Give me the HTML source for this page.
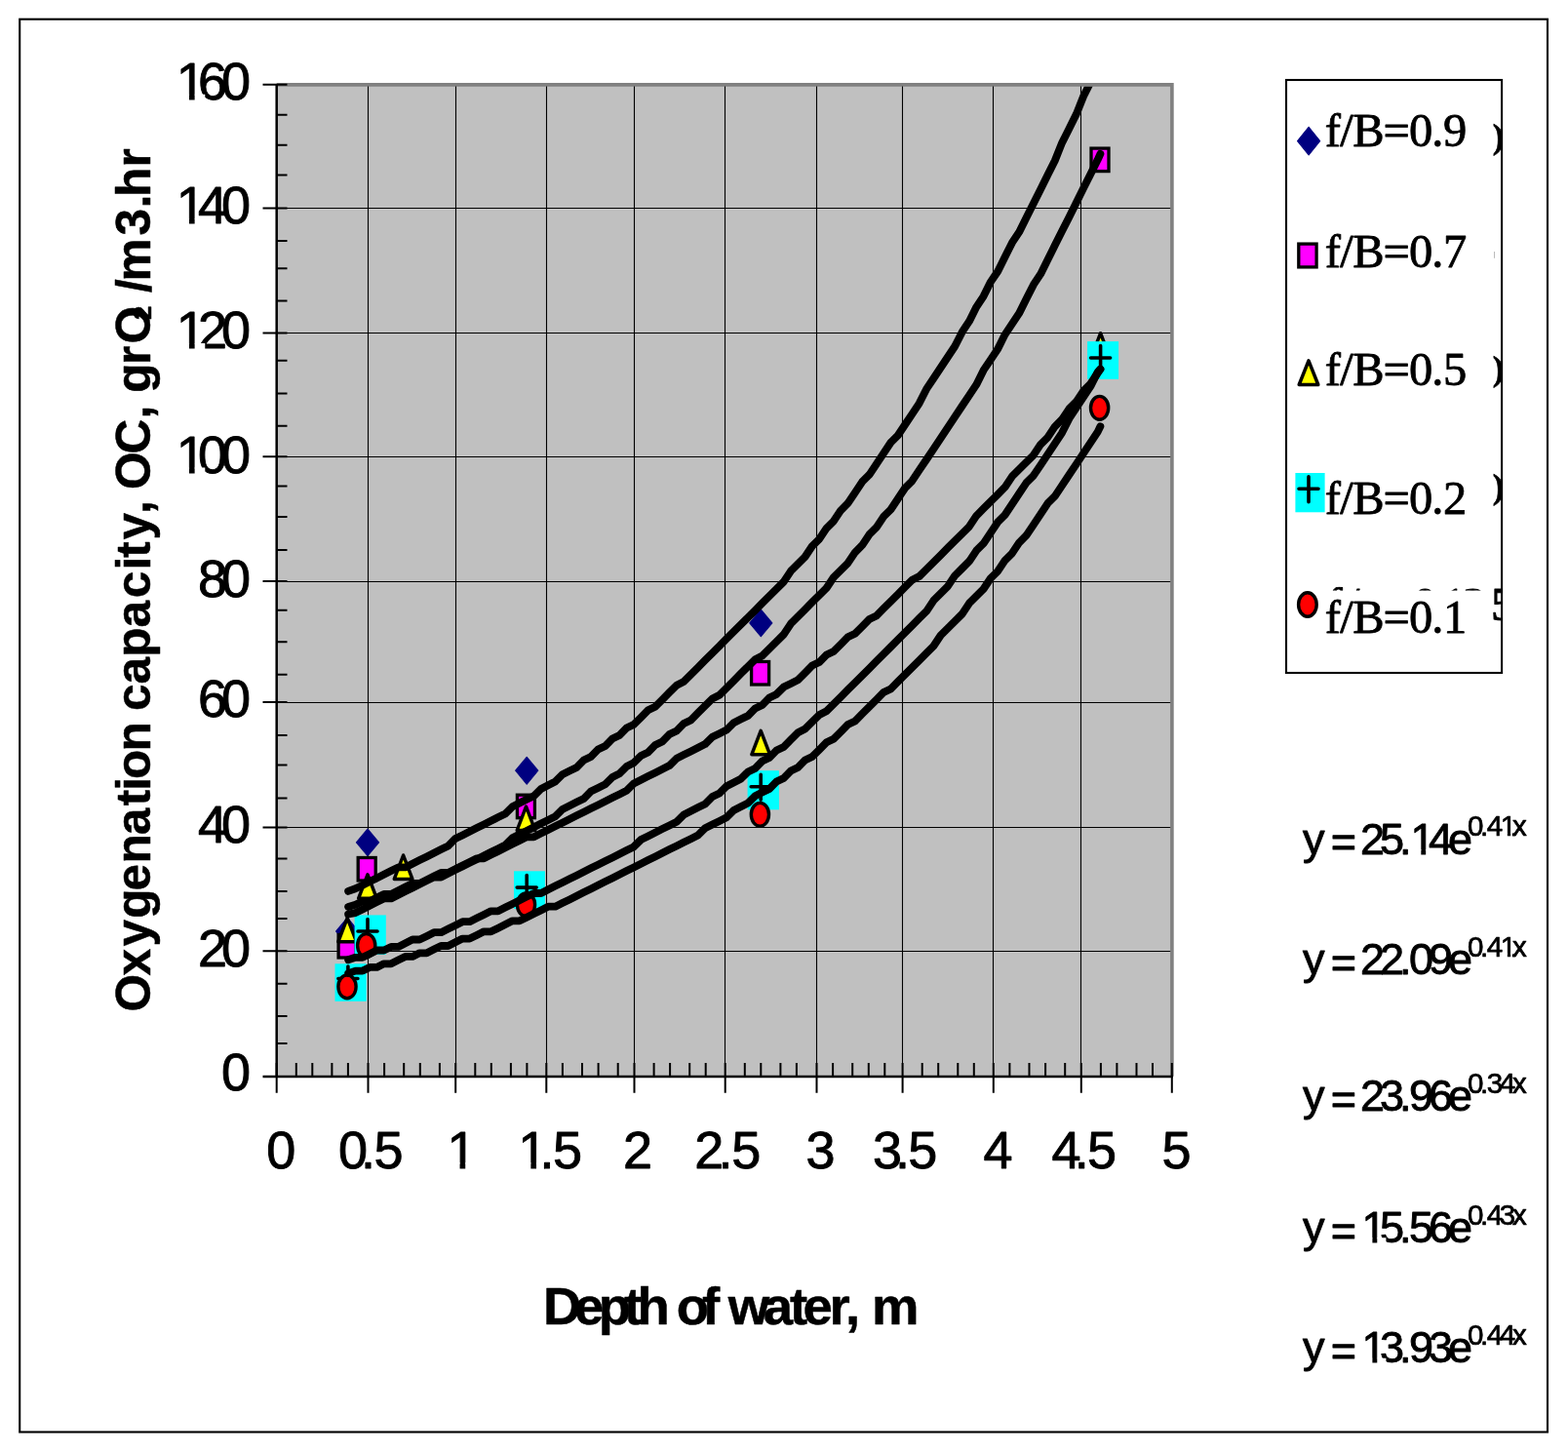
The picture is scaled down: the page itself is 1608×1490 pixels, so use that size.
<!DOCTYPE html>
<html lang="en"><head><meta charset="utf-8"><title>Oxygenation capacity vs depth of water</title>
<style>
html,body{margin:0;padding:0;background:#fff;}
body{width:1608px;height:1490px;overflow:hidden;}
svg{display:block;}
text{white-space:pre;}
.sans{font-family:"Liberation Sans",Arial,Helvetica,sans-serif;}
.serif{font-family:"Liberation Serif","Times New Roman",Times,serif;}
</style></head><body>
<svg width="1608" height="1490" viewBox="0 0 1608 1490">
<rect x="0" y="0" width="1608" height="1490" fill="#fff"/>
<rect x="20.2" y="19.7" width="1566.8" height="1448.8" fill="none" stroke="#000" stroke-width="2.1"/>
<rect x="283.7" y="86.7" width="918.8" height="1017.2" fill="#c0c0c0"/>
<path d="M283.7 86.9 H1201.9 V1103.8" fill="none" stroke="#808080" stroke-width="3.6"/>
<path d="M283.7 975.5 H1200.2 M283.7 848.5 H1200.2 M283.7 720.5 H1200.2 M283.7 596.5 H1200.2 M283.7 468.5 H1200.2 M283.7 341.5 H1200.2 M283.7 213.5 H1200.2 M377.5 88.6 V1103.8 M467.5 88.6 V1103.8 M560.5 88.6 V1103.8 M650.5 88.6 V1103.8 M743.5 88.6 V1103.8 M837.5 88.6 V1103.8 M925.5 88.6 V1103.8 M1018.5 88.6 V1103.8 M1108.5 88.6 V1103.8" fill="none" stroke="#000" stroke-width="1.1"/>
<path d="M283.7 86 V1104.5" fill="none" stroke="#000" stroke-width="2.5"/>
<path d="M269.5 1103.9 H1203" fill="none" stroke="#000" stroke-width="2.5"/>
<path d="M269.5 975.3 H294.5 M269.5 848.6 H294.5 M269.5 720.1 H294.5 M269.5 596.1 H294.5 M269.5 468.3 H294.5 M269.5 341.6 H294.5 M269.5 213.4 H294.5 M269.5 86.75 H294.5 M284 117.8 H294.5 M284 148.7 H294.5 M284 179.6 H294.5 M284 247 H294.5 M284 275.2 H294.5 M284 308.5 H294.5 M284 369.7 H294.5 M284 403.5 H294.5 M284 436.7 H294.5 M284 498.5 H294.5 M284 530.1 H294.5 M284 563.9 H294.5 M284 625.7 H294.5 M284 658.3 H294.5 M284 691.8 H294.5 M284 754 H294.5 M284 784.6 H294.5 M284 818.5 H294.5 M284 880.4 H294.5 M284 913.9 H294.5 M284 942 H294.5 M284 1008.7 H294.5 M284 1041.9 H294.5 M284 1070 H294.5 M283.7 1090 V1120.8 M377.5 1090 V1120.8 M467.2 1090 V1120.8 M560.3 1090 V1120.8 M650.5 1090 V1120.8 M743.7 1090 V1120.8 M837.5 1090 V1120.8 M925.6 1090 V1120.8 M1018.8 1090 V1120.8 M1108.8 1090 V1120.8 M1201.8 1090 V1120.8 M303.8 1090 V1103.8 M320.3 1090 V1103.8 M340.4 1090 V1103.8 M356.9 1090 V1103.8 M394.1 1090 V1103.8 M414.2 1090 V1103.8 M430.8 1090 V1103.8 M450.9 1090 V1103.8 M487.3 1090 V1103.8 M503.8 1090 V1103.8 M523.9 1090 V1103.8 M540.4 1090 V1103.8 M576.9 1090 V1103.8 M597.0 1090 V1103.8 M613.6 1090 V1103.8 M633.7 1090 V1103.8 M670.6 1090 V1103.8 M687.1 1090 V1103.8 M707.2 1090 V1103.8 M723.7 1090 V1103.8 M763.8 1090 V1103.8 M780.3 1090 V1103.8 M800.4 1090 V1103.8 M816.9 1090 V1103.8 M854.1 1090 V1103.8 M874.2 1090 V1103.8 M890.8 1090 V1103.8 M907.3 1090 V1103.8 M945.7 1090 V1103.8 M962.2 1090 V1103.8 M982.3 1090 V1103.8 M998.8 1090 V1103.8 M1035.4 1090 V1103.8 M1055.5 1090 V1103.8 M1072.1 1090 V1103.8 M1092.2 1090 V1103.8 M1128.9 1090 V1103.8 M1145.4 1090 V1103.8 M1165.5 1090 V1103.8 M1182.0 1090 V1103.8" fill="none" stroke="#000" stroke-width="2"/>
<g id="markers">
<path d="M356.2 941.2 L367.7 955 L356.2 968.8 L344.7 955 Z" fill="#000080" stroke="#000080" stroke-width="1.2" stroke-linejoin="round"/>
<path d="M377 850.1 L388.5 863.9 L377 877.6 L365.5 863.9 Z" fill="#000080" stroke="#000080" stroke-width="1.2" stroke-linejoin="round"/>
<path d="M540.2 776.5 L551.7 790.2 L540.2 804 L528.7 790.2 Z" fill="#000080" stroke="#000080" stroke-width="1.2" stroke-linejoin="round"/>
<path d="M780.3 625.1 L791.8 638.9 L780.3 652.6 L768.8 638.9 Z" fill="#000080" stroke="#000080" stroke-width="1.2" stroke-linejoin="round"/>
<rect x="347.1" y="958.5" width="18" height="23.5" fill="#ff00ff" stroke="#000" stroke-width="3.3"/>
<rect x="367.2" y="879.5" width="18" height="23.5" fill="#ff00ff" stroke="#000" stroke-width="3.3"/>
<rect x="530.4" y="815.2" width="18" height="23.5" fill="#ff00ff" stroke="#000" stroke-width="3.3"/>
<rect x="770.6" y="678.5" width="18" height="23.5" fill="#ff00ff" stroke="#000" stroke-width="3.3"/>
<rect x="1119" y="152.1" width="18" height="23.5" fill="#ff00ff" stroke="#000" stroke-width="3.3"/>
<path d="M356.2 941.3 L365.5 965.7 L346.9 965.7 Z" fill="#ffff00" stroke="#000" stroke-width="3.5" stroke-linejoin="round"/>
<path d="M377 896.8 L386.3 921.2 L367.7 921.2 Z" fill="#ffff00" stroke="#000" stroke-width="3.5" stroke-linejoin="round"/>
<path d="M413.6 877 L422.9 901.4 L404.3 901.4 Z" fill="#ffff00" stroke="#000" stroke-width="3.5" stroke-linejoin="round"/>
<path d="M539.5 827.1 L548.8 851.5 L530.2 851.5 Z" fill="#ffff00" stroke="#000" stroke-width="3.5" stroke-linejoin="round"/>
<path d="M780.2 749.3 L789.5 773.7 L770.9 773.7 Z" fill="#ffff00" stroke="#000" stroke-width="3.5" stroke-linejoin="round"/>
<path d="M1128.6 341.7 L1137.9 366.1 L1119.3 366.1 Z" fill="#ffff00" stroke="#000" stroke-width="3.5" stroke-linejoin="round"/>
<rect x="343.5" y="988.3" width="32.2" height="38.5" fill="#00ffff"/><path d="M346.9 1003.5 H366.9 M356.9 991 V1017" fill="none" stroke="#000" stroke-width="3.6" stroke-linecap="round"/>
<rect x="363.6" y="938.4" width="32.2" height="40.5" fill="#00ffff"/><path d="M367 955 H387 M377 942.5 V968.5" fill="none" stroke="#000" stroke-width="3.6" stroke-linecap="round"/>
<rect x="527" y="893.3" width="31.9" height="38.7" fill="#00ffff"/><path d="M530.2 910.1 H550.2 M540.2 897.6 V923.6" fill="none" stroke="#000" stroke-width="3.6" stroke-linecap="round"/>
<rect x="766.6" y="790.2" width="32.3" height="40.1" fill="#00ffff"/><path d="M770.2 806.8 H790.2 M780.2 794.3 V820.3" fill="none" stroke="#000" stroke-width="3.6" stroke-linecap="round"/>
<rect x="1115.1" y="350.1" width="32" height="38.7" fill="#00ffff"/><path d="M1118.6 367 H1138.6 M1128.6 354.5 V380.5" fill="none" stroke="#000" stroke-width="3.6" stroke-linecap="round"/>
<ellipse cx="356" cy="1011.8" rx="9.1" ry="11.9" fill="#ff0000" stroke="#000" stroke-width="3.4"/>
<ellipse cx="375.7" cy="969.5" rx="9.1" ry="11.9" fill="#ff0000" stroke="#000" stroke-width="3.4"/>
<ellipse cx="539.5" cy="927.8" rx="9.1" ry="11.9" fill="#ff0000" stroke="#000" stroke-width="3.4"/>
<ellipse cx="779.4" cy="835.3" rx="9.1" ry="11.9" fill="#ff0000" stroke="#000" stroke-width="3.4"/>
<ellipse cx="1127.6" cy="418.3" rx="9.1" ry="11.9" fill="#ff0000" stroke="#000" stroke-width="3.4"/>
</g>
<clipPath id="pc"><rect x="283.7" y="88.7" width="918.8" height="1016"/></clipPath>
<g id="trend" clip-path="url(#pc)" fill="none" stroke="#000" stroke-width="7.8" stroke-linecap="round" stroke-linejoin="round">
<polyline points="357.1,913.9 364.5,911.3 371.8,907.7 379.1,904.0 386.4,900.4 393.7,896.7 401.1,893.0 408.4,889.4 415.7,889.4 423.0,885.7 430.3,882.1 437.7,878.4 445.0,874.7 452.3,871.1 459.6,867.4 466.9,860.1 474.3,856.4 481.6,852.8 488.9,849.1 496.2,845.5 503.5,841.8 510.9,838.1 518.2,834.5 525.5,827.2 532.8,823.5 540.1,819.8 547.5,816.2 554.8,808.9 562.1,805.2 569.4,801.5 576.7,794.2 584.1,790.6 591.4,786.9 598.7,779.6 606.0,775.9 613.3,768.6 620.7,764.9 628.0,757.6 635.3,754.0 642.6,746.6 649.9,743.0 657.3,735.7 664.6,728.3 671.9,724.7 679.2,717.4 686.5,710.0 693.9,702.7 701.2,699.1 708.5,691.7 715.8,684.4 723.1,677.1 730.5,669.8 737.8,662.5 745.1,655.1 752.4,647.8 759.7,640.5 767.1,633.2 774.4,625.9 781.7,618.5 789.0,611.2 796.3,603.9 803.7,596.6 811.0,585.6 818.3,578.3 825.6,571.0 832.9,560.0 840.3,552.7 847.6,541.7 854.9,534.4 862.2,523.4 869.5,516.1 876.9,505.1 884.2,494.1 891.5,486.8 898.8,475.8 906.1,464.8 913.5,453.8 920.8,446.5 928.1,435.5 935.4,424.6 942.7,413.6 950.1,398.9 957.4,388.0 964.7,377.0 972.0,366.0 979.3,355.0 986.7,340.4 994.0,329.4 1001.3,314.8 1008.6,303.8 1015.9,289.1 1023.3,278.2 1030.6,263.5 1037.9,248.9 1045.2,237.9 1052.5,223.3 1059.9,208.6 1067.2,194.0 1074.5,179.3 1081.8,164.7 1089.1,146.4 1096.5,131.8 1103.8,117.1 1111.1,98.8 1118.4,84.2 1125.7,65.9 1128.4,61.6"/>
<polyline points="357.1,937.5 364.5,936.1 371.8,932.4 379.1,928.7 386.4,925.1 393.7,921.4 401.1,921.4 408.4,917.8 415.7,914.1 423.0,910.4 430.3,906.8 437.7,903.1 445.0,899.5 452.3,899.5 459.6,895.8 466.9,892.1 474.3,888.5 481.6,884.8 488.9,881.2 496.2,877.5 503.5,873.8 510.9,870.2 518.2,866.5 525.5,859.2 532.8,855.5 540.1,851.9 547.5,848.2 554.8,844.6 562.1,840.9 569.4,837.2 576.7,829.9 584.1,826.3 591.4,822.6 598.7,818.9 606.0,811.6 613.3,808.0 620.7,804.3 628.0,797.0 635.3,793.3 642.6,786.0 649.9,782.3 657.3,775.0 664.6,771.4 671.9,764.0 679.2,760.4 686.5,753.1 693.9,749.4 701.2,742.1 708.5,738.4 715.8,731.1 723.1,723.8 730.5,716.5 737.8,712.8 745.1,705.5 752.4,698.2 759.7,690.8 767.1,683.5 774.4,676.2 781.7,672.5 789.0,665.2 796.3,657.9 803.7,650.6 811.0,639.6 818.3,632.3 825.6,625.0 832.9,617.6 840.3,610.3 847.6,603.0 854.9,592.0 862.2,584.7 869.5,577.4 876.9,566.4 884.2,559.1 891.5,548.1 898.8,540.8 906.1,529.8 913.5,522.5 920.8,511.5 928.1,500.5 935.4,493.2 942.7,482.2 950.1,471.2 957.4,460.3 964.7,449.3 972.0,438.3 979.3,427.3 986.7,416.3 994.0,405.4 1001.3,394.4 1008.6,379.7 1015.9,368.8 1023.3,357.8 1030.6,343.1 1037.9,332.2 1045.2,321.2 1052.5,306.5 1059.9,291.9 1067.2,280.9 1074.5,266.3 1081.8,251.6 1089.1,237.0 1096.5,222.4 1103.8,207.7 1111.1,193.1 1118.4,178.4 1125.7,163.8 1128.4,157.8"/>
<polyline points="357.1,930.0 364.5,927.8 371.8,924.2 379.1,924.2 386.4,920.5 393.7,916.9 401.1,916.9 408.4,913.2 415.7,909.5 423.0,905.9 430.3,905.9 437.7,902.2 445.0,898.6 452.3,894.9 459.6,894.9 466.9,891.2 474.3,887.6 481.6,883.9 488.9,880.3 496.2,880.3 503.5,876.6 510.9,872.9 518.2,869.3 525.5,865.6 532.8,862.0 540.1,858.3 547.5,858.3 554.8,854.6 562.1,851.0 569.4,847.3 576.7,843.7 584.1,840.0 591.4,836.3 598.7,832.7 606.0,829.0 613.3,825.4 620.7,821.7 628.0,818.0 635.3,814.4 642.6,810.7 649.9,803.4 657.3,799.7 664.6,796.1 671.9,792.4 679.2,788.8 686.5,785.1 693.9,777.8 701.2,774.1 708.5,770.5 715.8,766.8 723.1,763.1 730.5,755.8 737.8,752.2 745.1,748.5 752.4,741.2 759.7,737.5 767.1,733.9 774.4,726.5 781.7,722.9 789.0,715.6 796.3,711.9 803.7,704.6 811.0,700.9 818.3,697.3 825.6,689.9 832.9,682.6 840.3,679.0 847.6,671.6 854.9,668.0 862.2,660.7 869.5,653.3 876.9,649.7 884.2,642.4 891.5,635.0 898.8,631.4 906.1,624.1 913.5,616.7 920.8,609.4 928.1,602.1 935.4,594.8 942.7,591.1 950.1,583.8 957.4,576.5 964.7,569.2 972.0,561.8 979.3,554.5 986.7,547.2 994.0,539.9 1001.3,528.9 1008.6,521.6 1015.9,514.3 1023.3,506.9 1030.6,499.6 1037.9,488.6 1045.2,481.3 1052.5,474.0 1059.9,466.7 1067.2,455.7 1074.5,448.4 1081.8,437.4 1089.1,430.1 1096.5,419.1 1103.8,411.8 1111.1,400.8 1118.4,393.5 1125.7,382.5 1128.4,378.5"/>
<polyline points="357.1,984.3 364.5,981.8 371.8,981.8 379.1,978.2 386.4,974.5 393.7,974.5 401.1,970.9 408.4,970.9 415.7,967.2 423.0,963.5 430.3,963.5 437.7,959.9 445.0,956.2 452.3,956.2 459.6,952.6 466.9,948.9 474.3,945.2 481.6,945.2 488.9,941.6 496.2,937.9 503.5,934.3 510.9,934.3 518.2,930.6 525.5,926.9 532.8,923.3 540.1,919.6 547.5,916.0 554.8,916.0 562.1,912.3 569.4,908.6 576.7,905.0 584.1,901.3 591.4,897.7 598.7,894.0 606.0,890.3 613.3,886.7 620.7,883.0 628.0,879.4 635.3,875.7 642.6,872.0 649.9,868.4 657.3,861.1 664.6,857.4 671.9,853.7 679.2,850.1 686.5,846.4 693.9,842.8 701.2,835.4 708.5,831.8 715.8,828.1 723.1,824.5 730.5,817.1 737.8,813.5 745.1,806.2 752.4,802.5 759.7,798.8 767.1,791.5 774.4,787.9 781.7,780.5 789.0,776.9 796.3,769.6 803.7,765.9 811.0,758.6 818.3,751.3 825.6,747.6 832.9,740.3 840.3,733.0 847.6,729.3 854.9,722.0 862.2,714.7 869.5,707.3 876.9,700.0 884.2,692.7 891.5,685.4 898.8,678.1 906.1,670.7 913.5,663.4 920.8,656.1 928.1,648.8 935.4,641.5 942.7,634.1 950.1,626.8 957.4,615.8 964.7,608.5 972.0,601.2 979.3,590.2 986.7,582.9 994.0,575.6 1001.3,564.6 1008.6,557.3 1015.9,546.3 1023.3,535.3 1030.6,528.0 1037.9,517.0 1045.2,506.0 1052.5,495.1 1059.9,487.7 1067.2,476.8 1074.5,465.8 1081.8,454.8 1089.1,443.8 1096.5,429.2 1103.8,418.2 1111.1,407.2 1118.4,396.2 1125.7,381.6 1128.4,378.6"/>
<polyline points="357.1,998.1 364.5,995.6 371.8,995.6 379.1,991.9 386.4,991.9 393.7,988.3 401.1,988.3 408.4,984.6 415.7,980.9 423.0,980.9 430.3,977.3 437.7,977.3 445.0,973.6 452.3,970.0 459.6,970.0 466.9,966.3 474.3,962.6 481.6,962.6 488.9,959.0 496.2,955.3 503.5,955.3 510.9,951.7 518.2,948.0 525.5,944.3 532.8,944.3 540.1,940.7 547.5,937.0 554.8,933.4 562.1,929.7 569.4,929.7 576.7,926.0 584.1,922.4 591.4,918.7 598.7,915.1 606.0,911.4 613.3,907.7 620.7,904.1 628.0,900.4 635.3,896.8 642.6,893.1 649.9,889.4 657.3,885.8 664.6,882.1 671.9,878.5 679.2,874.8 686.5,871.1 693.9,867.5 701.2,863.8 708.5,860.2 715.8,856.5 723.1,849.2 730.5,845.5 737.8,841.9 745.1,838.2 752.4,830.9 759.7,827.2 767.1,823.6 774.4,816.2 781.7,812.6 789.0,808.9 796.3,801.6 803.7,797.9 811.0,790.6 818.3,787.0 825.6,779.6 832.9,776.0 840.3,768.7 847.6,761.3 854.9,757.7 862.2,750.4 869.5,743.0 876.9,739.4 884.2,732.1 891.5,724.7 898.8,717.4 906.1,710.1 913.5,706.4 920.8,699.1 928.1,691.8 935.4,684.5 942.7,677.2 950.1,669.8 957.4,662.5 964.7,651.5 972.0,644.2 979.3,636.9 986.7,629.6 994.0,618.6 1001.3,611.3 1008.6,604.0 1015.9,593.0 1023.3,585.7 1030.6,574.7 1037.9,567.4 1045.2,556.4 1052.5,549.1 1059.9,538.1 1067.2,527.1 1074.5,516.1 1081.8,508.8 1089.1,497.8 1096.5,486.8 1103.8,475.9 1111.1,464.9 1118.4,453.9 1125.7,442.9 1128.4,437.3"/>
</g>
<g id="ylabels" fill="#000">
<text class="sans" font-size="54" stroke="#000" stroke-width="0.9" stroke-linejoin="round" x="226.9" y="1118">0</text>
<text class="sans" font-size="54" stroke="#000" stroke-width="0.9" stroke-linejoin="round" x="203 226.9" y="990.6">20</text>
<text class="sans" font-size="54" stroke="#000" stroke-width="0.9" stroke-linejoin="round" x="203 226.9" y="864.4">40</text>
<text class="sans" font-size="54" stroke="#000" stroke-width="0.9" stroke-linejoin="round" x="203 226.9" y="734.7">60</text>
<text class="sans" font-size="54" stroke="#000" stroke-width="0.9" stroke-linejoin="round" x="203 226.9" y="611.9">80</text>
<text class="sans" font-size="54" stroke="#000" stroke-width="0.9" stroke-linejoin="round" x="180.8 203 226.9" y="484.8">100</text><path d="M182.89 479.52 H193.96 V486.85 H182.89 Z M199.63 479.52 H210.27 V486.85 H199.63 Z" fill="#fff"/>
<text class="sans" font-size="54" stroke="#000" stroke-width="0.9" stroke-linejoin="round" x="180.8 203 226.9" y="357.4">120</text><path d="M182.89 352.12 H193.96 V359.45 H182.89 Z M199.63 352.12 H210.27 V359.45 H199.63 Z" fill="#fff"/>
<text class="sans" font-size="54" stroke="#000" stroke-width="0.9" stroke-linejoin="round" x="180.8 203 226.9" y="229.2">140</text><path d="M182.89 223.92 H193.96 V231.25 H182.89 Z M199.63 223.92 H210.27 V231.25 H199.63 Z" fill="#fff"/>
<text class="sans" font-size="54" stroke="#000" stroke-width="0.9" stroke-linejoin="round" x="180.8 203 226.9" y="102">160</text><path d="M182.89 96.72 H193.96 V104.05 H182.89 Z M199.63 96.72 H210.27 V104.05 H199.63 Z" fill="#fff"/>
</g>
<g id="xlabels" fill="#000">
<text class="sans" font-size="54" stroke="#000" stroke-width="0.9" stroke-linejoin="round" x="273.3" y="1197.6">0</text>
<text class="sans" font-size="54" stroke="#000" stroke-width="0.9" stroke-linejoin="round" x="347 370 383.4" y="1197.6">0.5</text>
<text class="sans" font-size="54" stroke="#000" stroke-width="0.9" stroke-linejoin="round" x="458.4" y="1197.6">1</text><path d="M460.49 1192.32 H471.56 V1199.65 H460.49 Z M477.23 1192.32 H487.87 V1199.65 H477.23 Z" fill="#fff"/>
<text class="sans" font-size="54" stroke="#000" stroke-width="0.9" stroke-linejoin="round" x="531.2 553.6 566.9" y="1197.6">1.5</text><path d="M533.29 1192.32 H544.36 V1199.65 H533.29 Z M550.03 1192.32 H557.88 V1199.65 H550.03 Z" fill="#fff"/>
<text class="sans" font-size="54" stroke="#000" stroke-width="0.9" stroke-linejoin="round" x="638.9" y="1197.6">2</text>
<text class="sans" font-size="54" stroke="#000" stroke-width="0.9" stroke-linejoin="round" x="712.3 736.5 750.2" y="1197.6">2.5</text>
<text class="sans" font-size="54" stroke="#000" stroke-width="0.9" stroke-linejoin="round" x="826.6" y="1197.6">3</text>
<text class="sans" font-size="54" stroke="#000" stroke-width="0.9" stroke-linejoin="round" x="894.9 917.9 931.2" y="1197.6">3.5</text>
<text class="sans" font-size="54" stroke="#000" stroke-width="0.9" stroke-linejoin="round" x="1008.4" y="1197.6">4</text>
<text class="sans" font-size="54" stroke="#000" stroke-width="0.9" stroke-linejoin="round" x="1078.4 1101.8 1115" y="1197.6">4.5</text>
<text class="sans" font-size="54" stroke="#000" stroke-width="0.9" stroke-linejoin="round" x="1191.5" y="1197.6">5</text>
</g>
<text class="sans" font-size="54.5" font-weight="bold" stroke="#000" stroke-width="0.5" stroke-linejoin="round" x="556.9 589.1 613.8 639.9 653.6 681 693.7 720 734.9 746.7 782.7 810 823.6 850.4 866.9 879.3 893.9" y="1358.4">Depth of water, m</text>
<g transform="translate(154,1035.5) rotate(-90)">
<text class="sans" font-size="49.5" font-weight="bold" stroke="#000" stroke-width="0.5" stroke-linejoin="round" x="-2.1 35.1 65 93.7 121.9 150 179.3 209.2 224.7 236.4 265 295 306.5 334.1 361.7 392 422.3 451.1 463.8 481.9 508.4 522.1 533.4 570.1 606.1 619.7 632.8 661.6 682.9" y="0">Oxygenation capacity, OC, grO</text>
<text class="sans" font-size="25.5" font-weight="bold" stroke="#000" stroke-width="0.5" stroke-linejoin="round" x="707.5" y="1.4">2</text>
<text class="sans" font-size="49.5" font-weight="bold" stroke="#000" stroke-width="0.5" stroke-linejoin="round" x="735.6 747 794 822.2 833.4 864" y="0">/m3.hr</text>
</g>
<rect x="1319" y="82" width="221.1" height="608" fill="#fff" stroke="#000" stroke-width="2.1"/>
<clipPath id="lc"><path d="M1531.4 82 H1539.5 V600 H1531.4 Z M1529 601.8 H1539.5 V690 H1529 Z M1359 601.8 H1398 V605.6 H1359 Z M1452 601.8 H1529 V605.6 H1452 Z"/></clipPath>
<g fill="#000" clip-path="url(#lc)">
<text class="serif" font-size="36.5" font-weight="bold" stroke="#000" stroke-width="0.6" stroke-linejoin="round" x="1530.6" y="152">)</text>
<text class="serif" font-size="36.5" font-weight="bold" stroke="#000" stroke-width="0.6" stroke-linejoin="round" x="1530.6" y="390.3">)</text>
<text class="serif" font-size="36.5" font-weight="bold" stroke="#000" stroke-width="0.6" stroke-linejoin="round" x="1530.6" y="510.8">)</text>
<text class="serif" font-size="48.5" stroke="#000" stroke-width="1.0" stroke-linejoin="round" x="1360.6 1380.7 1398 1425 1449.3 1470 1479.1 1500.1 1529.1" y="636">f/B=0.125</text>
</g>
<g fill="#000">
<text class="serif" font-size="48.5" stroke="#000" stroke-width="0.8" stroke-linejoin="round" x="1358.7 1374.3 1387.3 1418.5 1444.9 1468.3 1480" y="150.4">f/B=0.9</text>
<text class="serif" font-size="48.5" stroke="#000" stroke-width="0.8" stroke-linejoin="round" x="1358.7 1374.3 1387.3 1418.5 1444.9 1468.3 1480" y="274.3">f/B=0.7</text>
<text class="serif" font-size="48.5" stroke="#000" stroke-width="0.8" stroke-linejoin="round" x="1358.7 1374.3 1387.3 1418.5 1444.9 1468.3 1480" y="395.4">f/B=0.5</text>
<text class="serif" font-size="48.5" stroke="#000" stroke-width="0.8" stroke-linejoin="round" x="1358.7 1374.3 1387.3 1418.5 1444.9 1468.3 1480" y="526.5">f/B=0.2</text>
<text class="serif" font-size="48.5" stroke="#000" stroke-width="0.8" stroke-linejoin="round" x="1358.7 1374.3 1387.3 1418.5 1444.9 1468.3 1480" y="649">f/B=0.1</text>
</g>
<rect x="1532" y="258" width="0.9" height="6.8" fill="#b4b4b4"/>
<path d="M1342.1 130.3 L1353.6 144.6 L1342.1 158.8 L1330.6 144.6 Z" fill="#000080" stroke="#000080" stroke-width="1.2" stroke-linejoin="round"/>
<rect x="1331.8" y="250.1" width="18.3" height="23.8" fill="#ff00ff" stroke="#000" stroke-width="3.3"/>
<path d="M1342 369.9 L1351.8 394.5 L1332.2 394.5 Z" fill="#ffff00" stroke="#000" stroke-width="3.5" stroke-linejoin="round"/>
<rect x="1328.4" y="485" width="30.2" height="40.3" fill="#00ffff"/><path d="M1332 501.3 H1352 M1342 488.8 V514.8" fill="none" stroke="#000" stroke-width="3.6" stroke-linecap="round"/>
<ellipse cx="1340.9" cy="620" rx="9.3" ry="12.2" fill="#ff0000" stroke="#000" stroke-width="3.4"/>
<g id="eqs" fill="#000">
<text class="sans" font-size="45" stroke="#000" stroke-width="0.9" stroke-linejoin="round" x="1336.1" y="875.5">y</text>
<text class="sans" font-size="45" stroke="#000" stroke-width="0.9" stroke-linejoin="round" x="1364.7" y="878.1">=</text>
<text class="sans" font-size="45" stroke="#000" stroke-width="0.9" stroke-linejoin="round" x="1395.1 1415.1 1435 1446.4 1465 1484.9" y="875.5">25.14e</text><path d="M1447.82 870.89 H1457.31 V877.55 H1447.82 Z M1462.19 870.89 H1471.32 V877.55 H1462.19 Z" fill="#fff"/>
<text class="sans" font-size="29.5" stroke="#000" stroke-width="0.7" stroke-linejoin="round" x="1504.9 1518.1 1524.7 1538.8 1551" y="857.3">0.41x</text><path d="M1539.09 853.95 H1545.86 V859.25 H1539.09 Z M1549.16 853.95 H1550.81 V859.25 H1549.16 Z" fill="#fff"/>
<text class="sans" font-size="45" stroke="#000" stroke-width="0.9" stroke-linejoin="round" x="1336.1" y="999">y</text>
<text class="sans" font-size="45" stroke="#000" stroke-width="0.9" stroke-linejoin="round" x="1364.7" y="1001.6">=</text>
<text class="sans" font-size="45" stroke="#000" stroke-width="0.9" stroke-linejoin="round" x="1395.1 1415.1 1435 1445 1465 1484.9" y="999">22.09e</text>
<text class="sans" font-size="29.5" stroke="#000" stroke-width="0.7" stroke-linejoin="round" x="1504.9 1518.1 1524.7 1538.8 1551" y="980.8">0.41x</text><path d="M1539.09 977.45 H1545.86 V982.75 H1539.09 Z M1549.16 977.45 H1550.81 V982.75 H1549.16 Z" fill="#fff"/>
<text class="sans" font-size="45" stroke="#000" stroke-width="0.9" stroke-linejoin="round" x="1336.1" y="1139.2">y</text>
<text class="sans" font-size="45" stroke="#000" stroke-width="0.9" stroke-linejoin="round" x="1364.7" y="1141.8">=</text>
<text class="sans" font-size="45" stroke="#000" stroke-width="0.9" stroke-linejoin="round" x="1395.1 1415.1 1435 1445 1465 1484.9" y="1139.2">23.96e</text>
<text class="sans" font-size="29.5" stroke="#000" stroke-width="0.7" stroke-linejoin="round" x="1504.9 1518.1 1524.7 1537.8 1551" y="1121">0.34x</text>
<text class="sans" font-size="45" stroke="#000" stroke-width="0.9" stroke-linejoin="round" x="1336.1" y="1273.9">y</text>
<text class="sans" font-size="45" stroke="#000" stroke-width="0.9" stroke-linejoin="round" x="1364.7" y="1276.5">=</text>
<text class="sans" font-size="45" stroke="#000" stroke-width="0.9" stroke-linejoin="round" x="1396.5 1415.1 1435 1445 1465 1484.9" y="1273.9">15.56e</text><path d="M1397.92 1269.29 H1407.41 V1275.95 H1397.92 Z M1412.28 1269.29 H1421.42 V1275.95 H1412.28 Z" fill="#fff"/>
<text class="sans" font-size="29.5" stroke="#000" stroke-width="0.7" stroke-linejoin="round" x="1504.9 1518.1 1524.7 1537.8 1551" y="1255.7">0.43x</text>
<text class="sans" font-size="45" stroke="#000" stroke-width="0.9" stroke-linejoin="round" x="1336.1" y="1397.4">y</text>
<text class="sans" font-size="45" stroke="#000" stroke-width="0.9" stroke-linejoin="round" x="1364.7" y="1400">=</text>
<text class="sans" font-size="45" stroke="#000" stroke-width="0.9" stroke-linejoin="round" x="1396.5 1415.1 1435 1445 1465 1484.9" y="1397.4">13.93e</text><path d="M1397.92 1392.79 H1407.41 V1399.45 H1397.92 Z M1412.28 1392.79 H1421.42 V1399.45 H1412.28 Z" fill="#fff"/>
<text class="sans" font-size="29.5" stroke="#000" stroke-width="0.7" stroke-linejoin="round" x="1504.9 1518.1 1524.7 1537.8 1551" y="1379.2">0.44x</text>
</g>
</svg></body></html>
